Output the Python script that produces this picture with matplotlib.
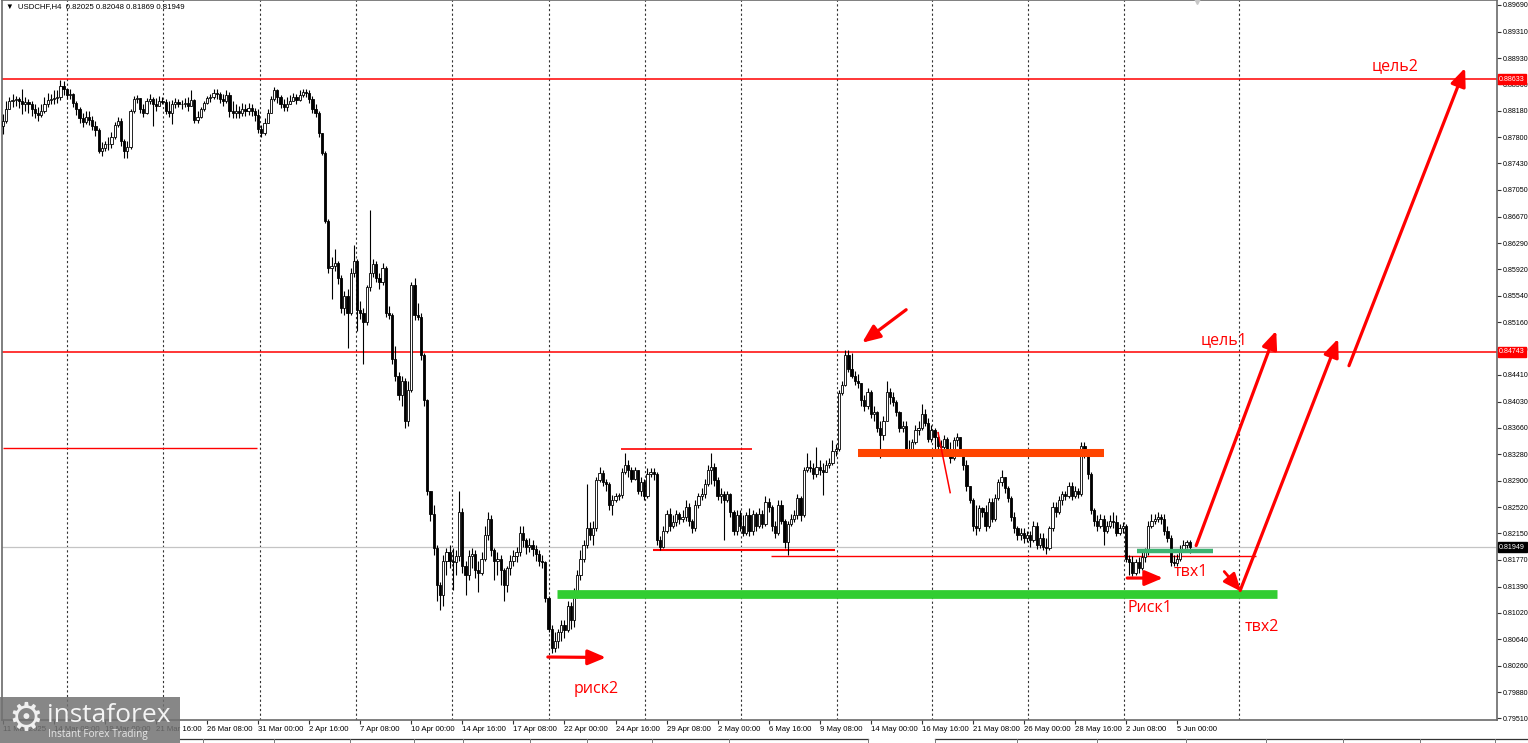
import numpy as np
import matplotlib
matplotlib.use('Agg')
import matplotlib.pyplot as plt
from matplotlib.lines import Line2D
from matplotlib.patches import Rectangle

plt.rcParams['font.family'] = ['Liberation Sans', 'DejaVu Sans']

# USDCHF H4 bars, prices in units of 0.0001
first_open = 8797
close_pts = [
    8804, 8821, 8832, 8834, 8835, 8832, 8828, 8831, 8827, 8821,
    8815, 8812, 8818, 8827, 8834, 8835, 8836, 8838, 8854, 8849,
    8841, 8842, 8829, 8820, 8807, 8802, 8809, 8805, 8797, 8790,
    8761, 8765, 8770, 8771, 8780, 8798, 8804, 8775, 8761, 8767,
    8818, 8835, 8836, 8821, 8815, 8832, 8835, 8827, 8825, 8832,
    8831, 8818, 8815, 8827, 8831, 8828, 8827, 8829, 8825, 8834,
    8805, 8809, 8821, 8829, 8836, 8838, 8844, 8842, 8835, 8832,
    8841, 8818, 8815, 8818, 8815, 8821, 8818, 8822, 8818, 8812,
    8792, 8787, 8801, 8815, 8835, 8847, 8837, 8828, 8824, 8827,
    8832, 8838, 8834, 8841, 8845, 8844, 8835, 8821, 8815, 8787,
    8758, 8661, 8593, 8597, 8601, 8579, 8536, 8554, 8530, 8586,
    8604, 8533, 8529, 8516, 8566, 8587, 8600, 8580, 8574, 8594,
    8530, 8527, 8464, 8440, 8412, 8433, 8375, 8419, 8569, 8526,
    8524, 8469, 8405, 8276, 8242, 8194, 8141, 8127, 8176, 8188,
    8176, 8174, 8182, 8245, 8168, 8155, 8182, 8185, 8162, 8159,
    8179, 8212, 8236, 8191, 8176, 8179, 8162, 8141, 8165, 8176,
    8182, 8188, 8216, 8205, 8196, 8199, 8192, 8185, 8176, 8174,
    8122, 8079, 8052, 8062, 8074, 8084, 8077, 8111, 8091, 8131,
    8155, 8179, 8198, 8223, 8212, 8222, 8291, 8301, 8288, 8285,
    8256, 8262, 8268, 8269, 8302, 8313, 8305, 8293, 8305, 8276,
    8288, 8268, 8300, 8303, 8299, 8205, 8196, 8219, 8242, 8226,
    8231, 8242, 8235, 8239, 8253, 8233, 8223, 8255, 8268, 8271,
    8285, 8305, 8310, 8291, 8268, 8271, 8262, 8271, 8245, 8219,
    8241, 8225, 8216, 8241, 8219, 8242, 8225, 8243, 8228, 8259,
    8253, 8225, 8216, 8256, 8233, 8202, 8228, 8236, 8241, 8265,
    8241, 8305, 8310, 8308, 8299, 8310, 8305, 8302, 8312, 8316,
    8333, 8336, 8415, 8427, 8469, 8450, 8440, 8433, 8429, 8405,
    8396, 8416, 8385, 8388, 8366, 8355, 8376, 8416, 8409, 8402,
    8388, 8365, 8368, 8336, 8330, 8345, 8362, 8365, 8385, 8373,
    8350, 8362, 8353, 8340, 8338, 8350, 8336, 8322, 8348, 8352,
    8330, 8312, 8282, 8263, 8226, 8222, 8251, 8246, 8226, 8259,
    8236, 8265, 8288, 8296, 8279, 8265, 8239, 8222, 8212, 8216,
    8208, 8213, 8205, 8226, 8198, 8208, 8196, 8194, 8222, 8253,
    8245, 8262, 8271, 8268, 8283, 8268, 8276, 8271, 8339, 8330,
    8299, 8248, 8233, 8226, 8236, 8219, 8225, 8233, 8231, 8216,
    8222, 8225, 8179, 8174, 8159, 8174, 8166, 8181, 8188, 8226,
    8233, 8236, 8239, 8235, 8219, 8209, 8174, 8172, 8179, 8191,
    8198, 8202.5, 8194.9,
]
high_pts = [
    8814, 8832, 8838, 8842, 8839, 8838, 8849, 8838, 8835, 8832,
    8827, 8824, 8828, 8838, 8844, 8842, 8847, 8847, 8862, 8860,
    8849, 8849, 8844, 8832, 8824, 8815, 8818, 8818, 8811, 8804,
    8794, 8774, 8775, 8780, 8788, 8802, 8809, 8807, 8778, 8775,
    8821, 8839, 8841, 8836, 8828, 8836, 8842, 8838, 8836, 8839,
    8838, 8835, 8832, 8834, 8836, 8835, 8834, 8836, 8838, 8848,
    8835, 8818, 8824, 8832, 8839, 8842, 8849, 8849, 8845, 8842,
    8847, 8845, 8832, 8827, 8825, 8829, 8827, 8829, 8827, 8822,
    8821, 8798, 8807, 8821, 8839, 8852, 8849, 8841, 8835, 8837,
    8841, 8844, 8842, 8847, 8849, 8849, 8847, 8839, 8828, 8818,
    8782, 8761, 8664, 8609, 8621, 8604, 8583, 8561, 8564, 8593,
    8626, 8607, 8547, 8536, 8570, 8676, 8607, 8604, 8586, 8601,
    8597, 8539, 8530, 8483, 8445, 8439, 8436, 8433, 8573, 8579,
    8544, 8529, 8473, 8407, 8276, 8255, 8198, 8145, 8184, 8194,
    8198, 8194, 8191, 8276, 8251, 8176, 8191, 8194, 8191, 8176,
    8188, 8226, 8245, 8241, 8194, 8188, 8184, 8165, 8169, 8184,
    8191, 8196, 8225, 8226, 8208, 8208, 8205, 8199, 8191, 8184,
    8176, 8125, 8084, 8074, 8079, 8091, 8091, 8119, 8117, 8137,
    8162, 8191, 8205, 8286, 8231, 8233, 8296, 8310, 8305, 8293,
    8288, 8269, 8273, 8273, 8308, 8330, 8319, 8310, 8310, 8305,
    8296, 8293, 8308, 8308, 8308, 8302, 8211, 8225, 8248, 8251,
    8241, 8248, 8245, 8248, 8262, 8258, 8236, 8262, 8273, 8279,
    8293, 8312, 8330, 8316, 8296, 8279, 8276, 8276, 8273, 8248,
    8248, 8248, 8241, 8245, 8251, 8248, 8245, 8251, 8248, 8268,
    8265, 8256, 8233, 8262, 8262, 8236, 8233, 8242, 8248, 8271,
    8268, 8310, 8329, 8319, 8316, 8338, 8319, 8316, 8319, 8322,
    8348, 8342, 8419, 8433, 8476, 8476, 8473, 8447, 8442, 8430,
    8412, 8422, 8419, 8396, 8390, 8376, 8383, 8433, 8422, 8416,
    8405, 8390, 8376, 8376, 8348, 8350, 8369, 8376, 8400, 8393,
    8379, 8369, 8365, 8359, 8348, 8355, 8353, 8345, 8353, 8358,
    8353, 8333, 8319, 8283, 8265, 8255, 8256, 8253, 8255, 8265,
    8265, 8271, 8293, 8305, 8296, 8283, 8268, 8245, 8226, 8222,
    8222, 8219, 8219, 8233, 8231, 8216, 8216, 8208, 8226, 8259,
    8259, 8268, 8276, 8276, 8288, 8288, 8282, 8279, 8345, 8345,
    8333, 8302, 8251, 8241, 8242, 8241, 8233, 8241, 8245, 8241,
    8228, 8231, 8228, 8184, 8182, 8179, 8181, 8188, 8194, 8233,
    8242, 8242, 8245, 8243, 8242, 8225, 8212, 8184, 8186, 8198,
    8205, 8206, 8204.8,
]
low_pts = [
    8785, 8801, 8821, 8824, 8825, 8822, 8814, 8818, 8815, 8811,
    8807, 8804, 8809, 8815, 8824, 8827, 8828, 8829, 8834, 8841,
    8835, 8835, 8824, 8812, 8801, 8795, 8799, 8798, 8790, 8782,
    8758, 8754, 8761, 8762, 8765, 8778, 8795, 8768, 8751, 8751,
    8764, 8815, 8829, 8815, 8809, 8814, 8828, 8797, 8818, 8827,
    8827, 8814, 8809, 8799, 8822, 8824, 8821, 8824, 8818, 8827,
    8801, 8801, 8807, 8818, 8827, 8831, 8835, 8835, 8829, 8825,
    8829, 8809, 8807, 8807, 8808, 8811, 8811, 8812, 8811, 8804,
    8787, 8780, 8784, 8800, 8815, 8832, 8829, 8822, 8818, 8818,
    8827, 8832, 8828, 8832, 8838, 8838, 8829, 8815, 8809, 8780,
    8755, 8658, 8587, 8550, 8590, 8571, 8529, 8526, 8480, 8526,
    8581, 8504, 8521, 8457, 8512, 8561, 8581, 8573, 8564, 8569,
    8524, 8521, 8456, 8433, 8405, 8397, 8365, 8368, 8416, 8519,
    8519, 8462, 8397, 8269, 8233, 8184, 8119, 8105, 8112, 8155,
    8165, 8134, 8155, 8176, 8159, 8127, 8148, 8165, 8151, 8131,
    8155, 8176, 8205, 8182, 8148, 8155, 8141, 8119, 8131, 8155,
    8169, 8174, 8182, 8196, 8186, 8188, 8182, 8176, 8168, 8165,
    8117, 8074, 8044, 8045, 8051, 8062, 8065, 8074, 8079, 8082,
    8122, 8148, 8174, 8194, 8205, 8198, 8219, 8288, 8282, 8276,
    8248, 8241, 8259, 8262, 8265, 8299, 8296, 8288, 8291, 8271,
    8268, 8262, 8265, 8296, 8291, 8198, 8191, 8194, 8216, 8219,
    8222, 8225, 8228, 8231, 8233, 8226, 8216, 8219, 8251, 8262,
    8265, 8283, 8285, 8283, 8262, 8258, 8205, 8259, 8239, 8213,
    8213, 8219, 8211, 8212, 8211, 8213, 8219, 8222, 8222, 8225,
    8245, 8219, 8208, 8212, 8228, 8194, 8184, 8225, 8231, 8236,
    8233, 8238, 8302, 8302, 8293, 8296, 8298, 8269, 8305, 8308,
    8313, 8326, 8333, 8412, 8425, 8445, 8436, 8427, 8422, 8397,
    8390, 8393, 8379, 8376, 8359, 8323, 8348, 8376, 8400, 8396,
    8382, 8359, 8359, 8330, 8325, 8326, 8342, 8356, 8362, 8368,
    8345, 8345, 8330, 8333, 8326, 8333, 8329, 8316, 8319, 8339,
    8325, 8305, 8276, 8258, 8219, 8212, 8219, 8239, 8219, 8222,
    8231, 8233, 8262, 8283, 8273, 8259, 8233, 8216, 8205, 8205,
    8201, 8202, 8196, 8202, 8192, 8194, 8191, 8186, 8191, 8219,
    8239, 8242, 8256, 8262, 8265, 8262, 8265, 8265, 8268, 8322,
    8293, 8242, 8226, 8219, 8222, 8198, 8216, 8222, 8223, 8211,
    8213, 8216, 8174, 8155, 8154, 8156, 8159, 8162, 8174, 8184,
    8222, 8228, 8231, 8229, 8213, 8202, 8168, 8168, 8168, 8176,
    8188, 8194, 8186.9,
]

# time axis labels (bar number, text)
date_idx = [0, 16, 32, 48, 64, 80, 96, 112, 128, 144, 160, 176, 192, 208,
            224, 240, 256, 272, 288, 304, 320, 336, 352, 368]
date_labels = ['11 Mar 2025', '14 Mar 08:00', '19 Mar 00:00', '21 Mar 16:00',
               '26 Mar 08:00', '31 Mar 00:00', '2 Apr 16:00', '7 Apr 08:00',
               '10 Apr 00:00', '14 Apr 16:00', '17 Apr 08:00', '22 Apr 00:00',
               '24 Apr 16:00', '29 Apr 08:00', '2 May 00:00', '6 May 16:00',
               '9 May 08:00', '14 May 00:00', '16 May 16:00', '21 May 08:00',
               '26 May 00:00', '28 May 16:00', '2 Jun 08:00', '5 Jun 00:00']
week_grid = [20, 50.3, 80.5, 110.7, 140.8, 171, 201.2, 231.3, 261.4, 291.2,
             321.3, 351.4, 387.4]

price_ticks = [0.89690, 0.89310, 0.88930, 0.88560, 0.88180, 0.87800, 0.87430,
               0.87050, 0.86670, 0.86290, 0.85920, 0.85540, 0.85160, 0.84780,
               0.84410, 0.84030, 0.83660, 0.83280, 0.82900, 0.82520, 0.82150,
               0.81770, 0.81390, 0.81020, 0.80640, 0.80260, 0.79880, 0.79510]

target2_level = 0.88633
target1_level = 0.84743
bid_price = 0.81949
old_level = 0.83373      # left short red line
range_top = 0.83359
range_bottom = 0.81911
support = 0.81826
resistance_zone = 0.83301
risk2_zone = 0.81277
entry1_zone = 0.81904

scale = 1e-4
close = np.array(close_pts) * scale
high = np.array(high_pts) * scale
low = np.array(low_pts) * scale
openp = np.concatenate([[first_open * scale], close[:-1]])
high = np.maximum(high, np.maximum(openp, close))
low = np.minimum(low, np.minimum(openp, close))
idx = np.arange(len(close))
up = close >= openp

W, H = 1528, 743
fig = plt.figure(figsize=(W / 100, H / 100), dpi=100)
ax = fig.add_axes([2 / W, 23 / H, 1495 / W, 720 / H])
ax.set_xlim(-0.3, 468.3)
ax.set_ylim(0.79486, 0.89761)

for g in week_grid:
    ax.axvline(g, color='#333333', lw=0.8, ls=(0, (2, 2.2)), zorder=1)

# levels
ax.axhline(target2_level, color='red', lw=1.1, zorder=2)
ax.axhline(target1_level, color='red', lw=1.1, zorder=2)
ax.axhline(bid_price, color='#c4c4c4', lw=0.9, zorder=1.5)
ax.hlines(old_level, 0, 79.6, color='red', lw=1.0, zorder=2)
ax.hlines(range_top, 193.7, 234.8, color='red', lw=1.2, zorder=2)
ax.hlines(range_bottom, 203.8, 260.8, color='red', lw=1.5, zorder=2)
ax.hlines(support, 240.8, 392.8, color='red', lw=1.0, zorder=2)

# candles
ax.vlines(idx, low, high, color='black', lw=0.8, zorder=3)
body_lo = np.minimum(openp, close)
body_h = np.maximum(np.abs(close - openp), 0.00002)
ax.bar(idx[up], body_h[up], bottom=body_lo[up], width=0.7, color='white',
       edgecolor='black', linewidth=0.6, zorder=4)
ax.bar(idx[~up], body_h[~up], bottom=body_lo[~up], width=0.7, color='black',
       edgecolor='black', linewidth=0.6, zorder=4)

# zones drawn over the candles
ax.hlines(resistance_zone, 268, 345.1, color='#ff4500', lw=5.8, zorder=5)
ax.hlines(risk2_zone, 173.7, 399.4, color='#32cd32', lw=6.3, zorder=5)
ax.hlines(entry1_zone, 355.5, 379.3, color='#3cb371', lw=3.2, zorder=5)

# arrows and captions
def arrow(tail, head, lw=2.3):
    ax.annotate('', xy=head, xytext=tail,
                arrowprops=dict(arrowstyle='-|>,head_length=0.9,head_width=0.38',
                                lw=lw, color='red', mutation_scale=12,
                                shrinkA=0, shrinkB=0), zorder=6)

arrow((170.8, 0.80385), (189.0, 0.80378))
arrow((283.1, 0.85341), (269.3, 0.84870))
arrow((374.0, 0.81975), (399.1, 0.85041))
arrow((387.8, 0.81334), (418.5, 0.84927))
arrow((421.9, 0.84542), (458.3, 0.88792))
arrow((382.8, 0.81605), (388.1, 0.81320), lw=2.0)
arrow((352.4, 0.81512), (363.6, 0.81512))
ax.plot([293.1, 296.9], [0.83587, 0.82731], color='red', lw=1.1, zorder=6)

cap = dict(color='red', fontsize=11.5, family=['Open Sans', 'DejaVu Sans'],
           ha='center', va='center', zorder=7)
ax.text(185.9, 0.79935, 'риск2', **cap)
ax.text(382.8, 0.84913, 'цель1', **cap)
ax.text(436.4, 0.88820, 'цель2', **cap)
ax.text(372.4, 0.81605, 'твх1', **cap)
ax.text(359.6, 0.81089, 'Риск1', **cap)
ax.text(394.7, 0.80820, 'твх2', **cap)

# axes look like the terminal window
for s in ax.spines.values():
    s.set_color('#6a6a6a')
    s.set_linewidth(1.2)
ax.yaxis.tick_right()
ax.set_yticks(price_ticks)
ax.set_yticklabels(['%.5f' % p for p in price_ticks])
ax.set_xticks(date_idx)
ax.set_xticklabels(date_labels)
for t in ax.get_xticklabels():
    t.set_ha('left')
ax.tick_params(axis='x', length=3, width=0.8, pad=1.5, labelsize=5.6,
               color='#333333')
ax.tick_params(axis='y', length=3, width=0.8, pad=1.0, labelsize=5.1,
               color='#333333')

tag = dict(transform=ax.get_yaxis_transform(), ha='left', va='center',
           fontsize=5.1, color='white', clip_on=False, zorder=8)
ax.text(1.0015, target2_level, '%.5f' % target2_level,
        bbox=dict(boxstyle='square,pad=0.2', fc='red', ec='red'), **tag)
ax.text(1.0015, target1_level, '%.5f' % target1_level,
        bbox=dict(boxstyle='square,pad=0.2', fc='red', ec='red'), **tag)
ax.text(1.0015, bid_price, '%.5f' % bid_price,
        bbox=dict(boxstyle='square,pad=0.2', fc='black', ec='black'), **tag)

fig.text(6 / W, 1 - 7 / H, '\u25bc  USDCHF,H4  0.82025 0.82048 0.81869 0.81949',
         fontsize=5.6, va='center', ha='left')
ax.plot([374.3], [0.8974], marker='v', color='#c8c8c8', ms=4, clip_on=False, zorder=8)

# bottom tab strip
yb = 1 - 738.5 / H
fig.add_artist(Line2D([180 / W, 868 / W], [yb, yb], color='#333333', lw=0.9))
fig.add_artist(Line2D([935 / W, 1.0], [yb, yb], color='#333333', lw=0.9))
for xs in [203, 274, 350, 414, 463, 530, 587, 652, 729, 868, 935, 1017, 1097,
           1186, 1266, 1343, 1420, 1495]:
    fig.add_artist(Line2D([xs / W, xs / W], [0, yb], color='#777777', lw=0.7))

# watermark
fig.add_artist(Rectangle((0, 0), 180 / W, 46 / H, transform=fig.transFigure,
                         fc='#727272', ec='none', alpha=0.85, zorder=10))
fig.text(26 / W, 1 - 719 / H, '\u2699', fontsize=28, color='#f0f0f0',
         ha='center', va='center', family='DejaVu Sans', zorder=11)
fig.text(47 / W, 1 - 715 / H, 'instaforex', fontsize=19, color='#f4f4f4',
         ha='left', va='center', family=['Open Sans', 'DejaVu Sans'], zorder=11)
fig.text(48 / W, 1 - 735 / H, 'Instant Forex Trading', fontsize=7.2,
         color='#e6e6e6', ha='left', va='center',
         family=['Open Sans', 'DejaVu Sans'], zorder=11)

fig.savefig('out.png', dpi=100)
